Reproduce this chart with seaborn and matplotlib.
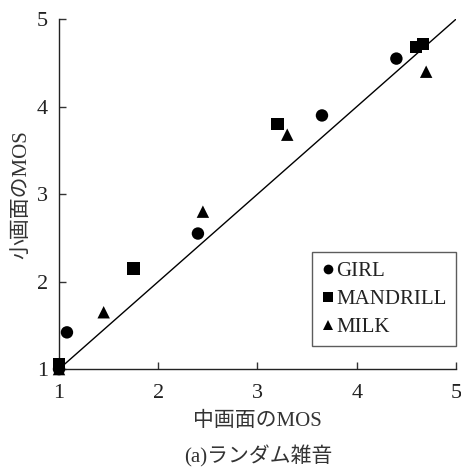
import matplotlib
matplotlib.use("Agg")
import matplotlib.pyplot as plt
import seaborn as sns
import pandas as pd

girl_x = [1.0, 1.08, 2.4, 3.65, 4.4]
girl_y = [1.0, 1.42, 2.55, 3.9, 4.55]
mandrill_x = [1.0, 1.75, 3.2, 4.6, 4.67]
mandrill_y = [1.06, 2.15, 3.8, 4.68, 4.72]
milk_x = [1.0, 1.45, 2.45, 3.3, 4.7]
milk_y = [1.0, 1.65, 2.8, 3.68, 4.4]
series = ["GIRL", "MANDRILL", "MILK"]
ticks = [1, 2, 3, 4, 5]

rows = []
for name, xs, ys in zip(series, [girl_x, mandrill_x, milk_x], [girl_y, mandrill_y, milk_y]):
    for x, y in zip(xs, ys):
        rows.append({"x": x, "y": y, "series": name})
df = pd.DataFrame(rows)

sns.set_style("white")
plt.rcParams['font.family'] = ['Liberation Serif', 'Noto Sans CJK JP']
plt.rcParams['mathtext.fontset'] = 'stix'

fig = plt.figure(figsize=(4.61, 4.69), dpi=100)
ax = fig.add_axes([0.128, 0.213, 0.861, 0.746])

ax.plot([1, 5], [1, 5], color="black", lw=1.0, zorder=1)
sns.scatterplot(data=df, x="x", y="y", style="series", markers={"GIRL": "o", "MANDRILL": "s", "MILK": "^"},
                color="black", s=80, edgecolor="black", linewidth=0, ax=ax, zorder=3, clip_on=False)

ax.set_xlim(1, 5)
ax.set_ylim(1, 5)
ax.set_xticks(ticks)
ax.set_yticks(ticks)
ax.set_xticklabels([str(t) for t in ticks], fontsize=16, color="#222222")
ax.set_yticklabels([str(t) for t in ticks], fontsize=16, color="#222222")
ax.tick_params(direction="in", length=5, width=1, color="#333333")
ax.tick_params(axis="x", bottom=True, pad=11)
ax.tick_params(axis="y", left=True, pad=8)
for side in ["top", "right"]:
    ax.spines[side].set_visible(False)
for side in ["left", "bottom"]:
    ax.spines[side].set_color("#222222")
    ax.spines[side].set_linewidth(1.0)

ax.set_xlabel("中画面のMOS", fontsize=15, color="#333333", labelpad=6)
ax.set_ylabel("小画面のMOS", fontsize=15, color="#333333", labelpad=4)

handles, labels = ax.get_legend_handles_labels()
for h in handles:
    h.set_markersize(7)
leg = ax.legend(handles, labels, loc="lower right", bbox_to_anchor=(1.0, 0.065), frameon=True, fancybox=False,
                edgecolor="#333333", fontsize=15, handletextpad=0.1, borderpad=0.45, labelspacing=0.4,
                handlelength=0.6, borderaxespad=0.0)
leg.get_frame().set_linewidth(1.0)
for t in leg.get_texts():
    t.set_color("#222222")

fig.text(0.56, 0.027, "(a)ランダム雑音", ha="center", va="center", fontsize=15, color="#333333")

fig.savefig("out.png", dpi=100)
